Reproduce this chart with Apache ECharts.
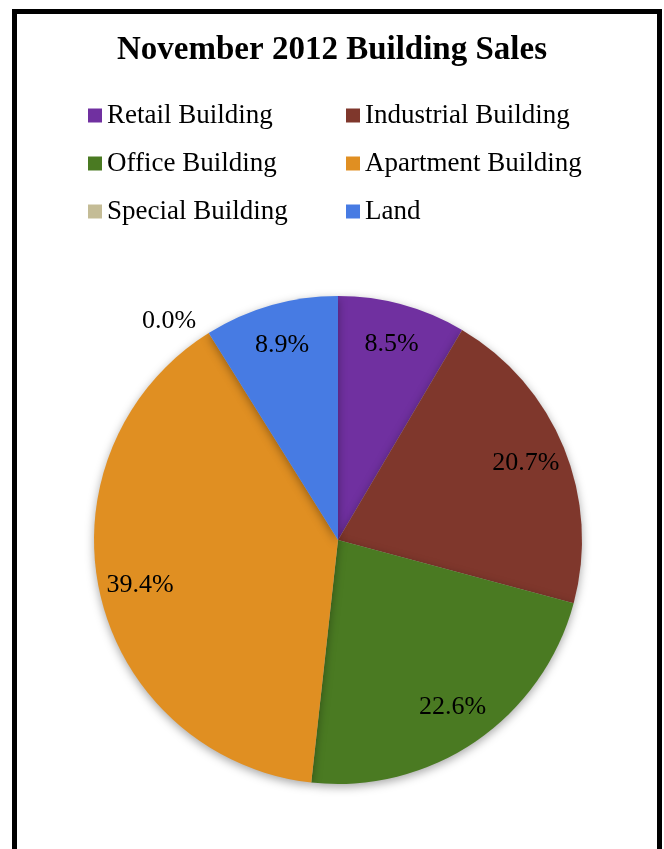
<!DOCTYPE html>
<html>
<head>
<meta charset="utf-8">
<script src="https://cdn.jsdelivr.net/npm/echarts@6/dist/echarts.min.js"></script>
<style>
html,body{margin:0;padding:0;background:#fff;}
#c{width:664px;height:849px;}
</style>
</head>
<body>
<div id="c"></div>
<script>
var categories = ['Retail Building','Industrial Building','Office Building','Apartment Building','Special Building','Land'];
var values = [8.5, 20.7, 22.6, 39.4, 0.0, 8.9];
var colors = ['#7030A0','#7F372C','#4A7A22','#E08F22','#C4BC96','#477BE3'];
var leftLegend = ['Retail Building','Office Building','Special Building'];
var rightLegend = ['Industrial Building','Apartment Building','Land'];

var FONT = 'Liberation Serif';
var chart = echarts.init(document.getElementById('c'));

var mainData = categories.map(function(n,i){ return {name:n, value:values[i], itemStyle:{color:colors[i]}}; });
var labelData = categories.map(function(n,i){
  var d = {name:n, value:values[i]};
  if (values[i] === 0) {
    d.label = {position:'outside'};
    d.labelLine = {show:false, length:14, length2:0};
  }
  return d;
});

var legendCommon = {
  orient:'vertical', itemWidth:14, itemHeight:14, itemGap:21, icon:'rect',
  textStyle:{fontFamily:FONT, fontSize:27, lineHeight:27, color:'#000', padding:[0,0,0,0]},
  selectedMode:false
};

chart.setOption({
  color: colors,
  animation:false,
  title:{
    text:'November 2012 Building Sales', left:'center', top:29,
    textStyle:{fontFamily:FONT, fontWeight:'bold', fontSize:33, color:'#000'}
  },
  legend:[
    Object.assign({}, legendCommon, {left:83, top:97, data:leftLegend}),
    Object.assign({}, legendCommon, {left:341, top:97, data:rightLegend})
  ],
  graphic:[{
    type:'rect', silent:true,
    shape:{x:14.5, y:11.5, width:645, height:900},
    style:{fill:'none', stroke:'#000', lineWidth:5}
  }],
  series:[
    {
      type:'pie', center:[338,540], radius:[0,244], startAngle:90, clockwise:true,
      label:{show:false}, labelLine:{show:false}, silent:true,
      itemStyle:{shadowBlur:10, shadowOffsetY:3, shadowColor:'rgba(0,0,0,0.35)'},
      data: mainData
    },
    {
      type:'pie', center:[338,540], radius:[156,244], startAngle:90, clockwise:true,
      silent:true, avoidLabelOverlap:false,
      itemStyle:{color:'rgba(0,0,0,0)'},
      label:{show:true, position:'inside', fontFamily:FONT, fontSize:26, color:'#000',
        formatter:function(p){ return p.value.toFixed(1)+'%'; }},
      labelLine:{show:false},
      data: labelData
    }
  ]
});
</script>
</body>
</html>
